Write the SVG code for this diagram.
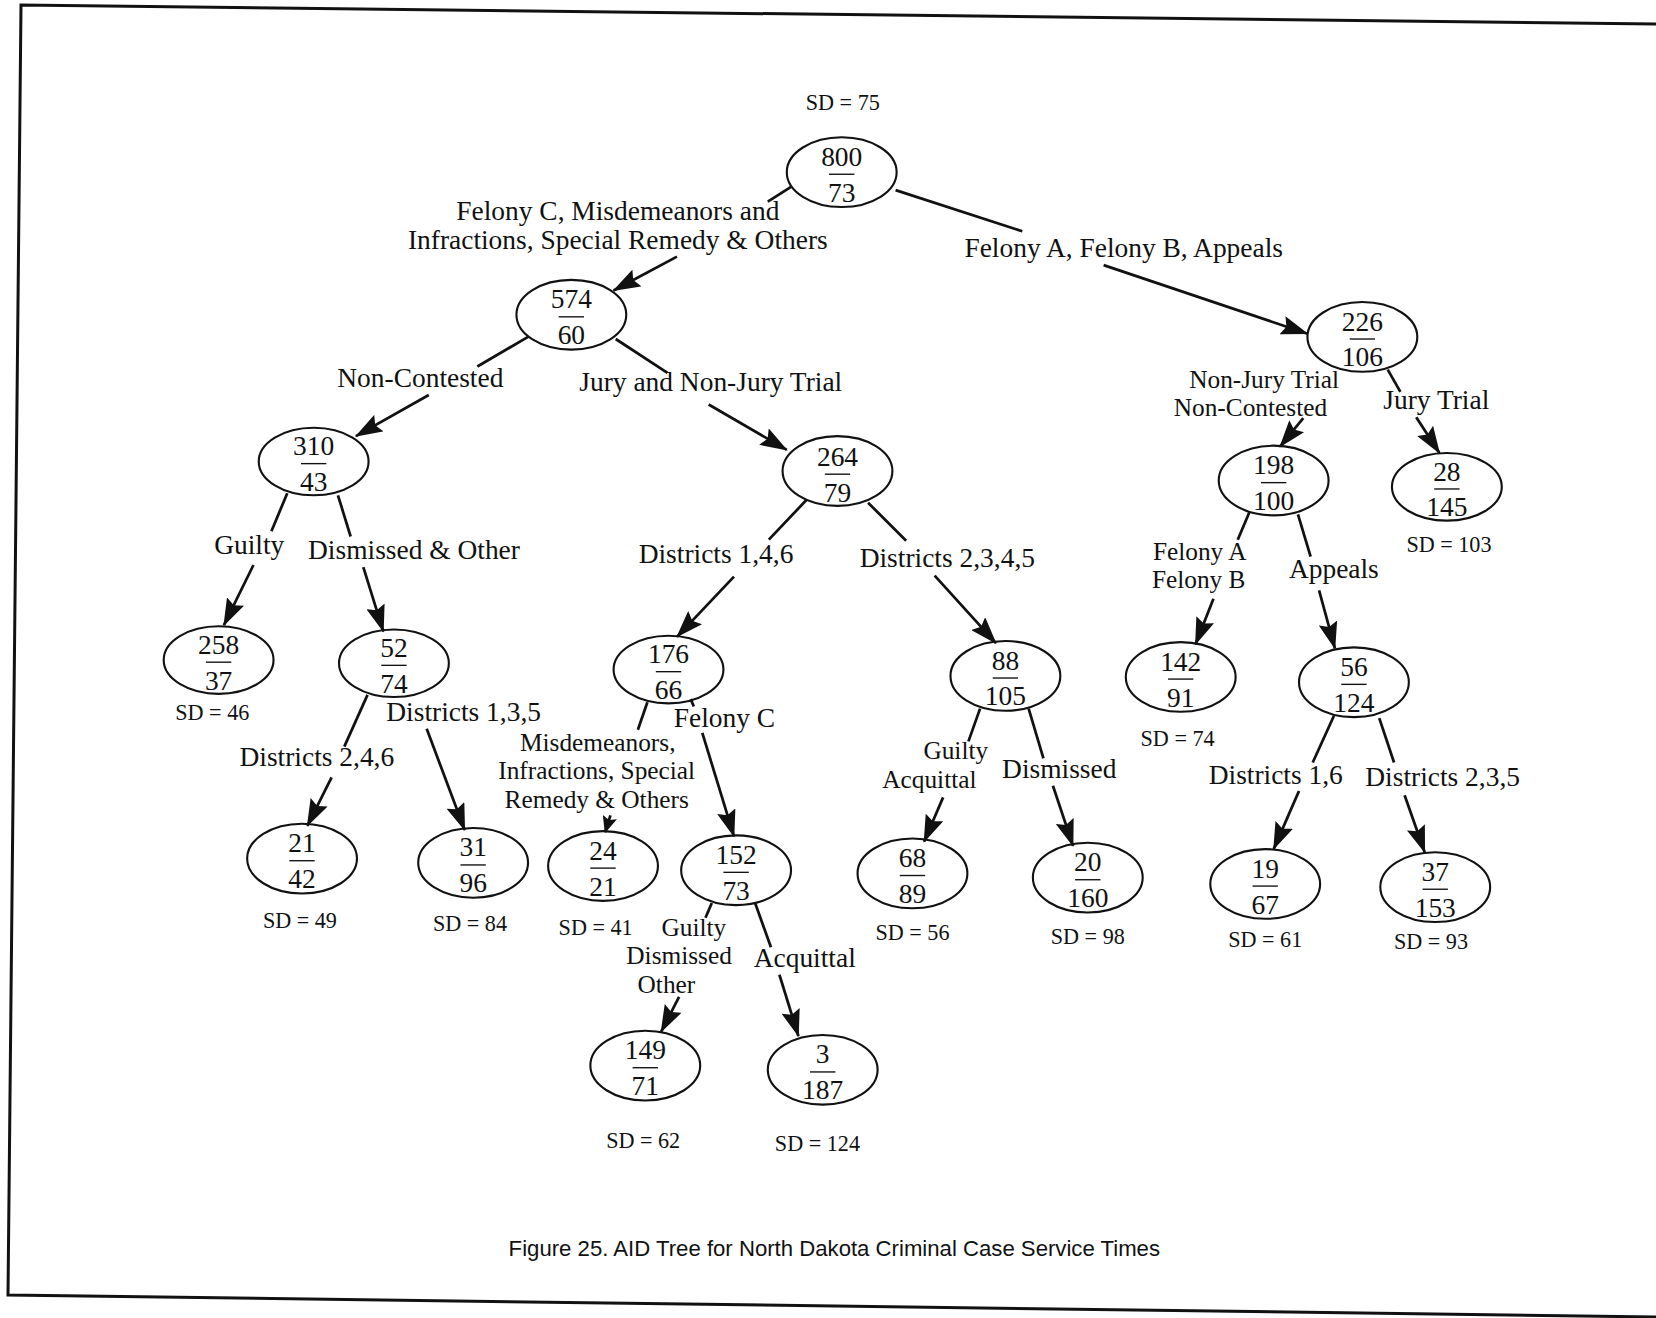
<svg xmlns="http://www.w3.org/2000/svg" width="1656" height="1318" viewBox="0 0 1656 1318">
<style>
.frame{fill:none;stroke:#111;stroke-width:3}
.node ellipse{fill:none;stroke:#111;stroke-width:2}
.node line{stroke:#111;stroke-width:1.3}
.num{font-family:"Liberation Serif","Times New Roman",serif;font-size:26px;fill:#111;text-anchor:middle}
.lbl{font-family:"Liberation Serif","Times New Roman",serif;font-size:26px;fill:#111;text-anchor:middle}
.stk{font-family:"Liberation Serif","Times New Roman",serif;font-size:24px;fill:#111;text-anchor:middle}
.sd{font-family:"Liberation Serif","Times New Roman",serif;font-size:21px;fill:#111;text-anchor:middle}
.cap{font-family:"Liberation Sans",Arial,sans-serif;font-size:21px;fill:#111;text-anchor:middle}
#edges line{stroke:#111;stroke-width:2.6;fill:none}
#edges line.arr{marker-end:url(#ah)}
#edges line.arrs{marker-end:url(#ahs)}
</style>
<defs>
<marker id="ah" viewBox="0 0 26 18" refX="25" refY="9" markerWidth="26" markerHeight="18" markerUnits="userSpaceOnUse" orient="auto">
<path d="M0,0 L26,9 L0,18 L4,9 z" fill="#111"/>
</marker>
<marker id="ahs" viewBox="0 0 16 14" refX="15" refY="7" markerWidth="16" markerHeight="14" markerUnits="userSpaceOnUse" orient="auto">
<path d="M0,0 L16,7 L0,14 L3,7 z" fill="#111"/>
</marker>
</defs>
<rect width="1656" height="1318" fill="#fff"/>
<path class="frame" d="M1656,24 L21,5 L8,1295 L1656,1317"/>
<g transform="scale(1.0561)">
<g id="edges">
<line x1="749" y1="177" x2="727" y2="191"/>
<line class="arr" x1="641" y1="243" x2="581" y2="275"/>
<line x1="848" y1="180" x2="968" y2="219"/>
<line class="arr" x1="1045" y1="251" x2="1238" y2="316"/>
<line x1="500" y1="319" x2="452" y2="347"/>
<line class="arr" x1="406" y1="374" x2="337" y2="413"/>
<line x1="583" y1="321" x2="632" y2="353"/>
<line class="arr" x1="671" y1="383" x2="745" y2="426"/>
<line class="arr" x1="1234" y1="396" x2="1212" y2="423"/>
<line x1="1314" y1="350" x2="1326" y2="371"/>
<line class="arr" x1="1341" y1="395" x2="1363" y2="429"/>
<line x1="272" y1="467" x2="257" y2="503"/>
<line class="arr" x1="240" y1="535" x2="212" y2="592"/>
<line x1="320" y1="469" x2="332" y2="508"/>
<line class="arr" x1="344" y1="537" x2="363" y2="598"/>
<line x1="764" y1="473" x2="728" y2="511"/>
<line class="arr" x1="695" y1="546" x2="641" y2="603"/>
<line x1="822" y1="476" x2="858" y2="512"/>
<line class="arr" x1="885" y1="545" x2="943" y2="609"/>
<line x1="348" y1="658" x2="326" y2="707"/>
<line class="arr" x1="314" y1="736" x2="291" y2="782"/>
<line class="arr" x1="404" y1="690" x2="440" y2="786"/>
<line x1="613" y1="665" x2="604" y2="691"/>
<line class="arrs" x1="578" y1="772" x2="573" y2="788"/>
<line x1="654" y1="662" x2="657" y2="669"/>
<line class="arr" x1="665" y1="694" x2="695" y2="792"/>
<line x1="928" y1="671" x2="917" y2="702"/>
<line class="arr" x1="893" y1="755" x2="875" y2="797"/>
<line x1="974" y1="671" x2="988" y2="718"/>
<line class="arr" x1="997" y1="744" x2="1016" y2="801"/>
<line x1="1183" y1="485" x2="1172" y2="511"/>
<line class="arr" x1="1149" y1="567" x2="1132" y2="610"/>
<line x1="1229" y1="487" x2="1241" y2="527"/>
<line class="arr" x1="1249" y1="559" x2="1264" y2="614"/>
<line x1="1263" y1="678" x2="1243" y2="722"/>
<line class="arr" x1="1230" y1="749" x2="1206" y2="804"/>
<line x1="1306" y1="680" x2="1320" y2="722"/>
<line class="arr" x1="1330" y1="753" x2="1349" y2="807"/>
<line x1="674" y1="855" x2="668" y2="869"/>
<line class="arr" x1="643" y1="944" x2="626" y2="977"/>
<line x1="715" y1="855" x2="730" y2="897"/>
<line class="arr" x1="738" y1="923" x2="756" y2="981"/>
</g>
<g id="labels">
<text class="lbl" x="585" y="208">Felony C, Misdemeanors and</text>
<text class="lbl" x="585" y="236">Infractions, Special Remedy &amp; Others</text>
<text class="lbl" x="1064" y="243">Felony A, Felony B, Appeals</text>
<text class="lbl" x="398" y="366">Non-Contested</text>
<text class="lbl" x="673" y="370">Jury and Non-Jury Trial</text>
<text class="stk" x="1197" y="367">Non-Jury Trial</text>
<text class="stk" x="1184" y="394">Non-Contested</text>
<text class="lbl" x="1360" y="387">Jury Trial</text>
<text class="lbl" x="236" y="525">Guilty</text>
<text class="lbl" x="392" y="529">Dismissed &amp; Other</text>
<text class="lbl" x="678" y="533">Districts 1,4,6</text>
<text class="lbl" x="897" y="537">Districts 2,3,4,5</text>
<text class="stk" x="1136" y="530">Felony A</text>
<text class="stk" x="1135" y="557">Felony B</text>
<text class="lbl" x="1263" y="547">Appeals</text>
<text class="lbl" x="439" y="683">Districts 1,3,5</text>
<text class="lbl" x="300" y="725">Districts 2,4,6</text>
<text class="stk" x="566" y="711">Misdemeanors,</text>
<text class="stk" x="565" y="738">Infractions, Special</text>
<text class="stk" x="565" y="765">Remedy &amp; Others</text>
<text class="lbl" x="686" y="688">Felony C</text>
<text class="stk" x="905" y="719">Guilty</text>
<text class="stk" x="880" y="746">Acquittal</text>
<text class="lbl" x="1003" y="737">Dismissed</text>
<text class="lbl" x="1208" y="742">Districts 1,6</text>
<text class="lbl" x="1366" y="744">Districts 2,3,5</text>
<text class="stk" x="657" y="886">Guilty</text>
<text class="stk" x="643" y="913">Dismissed</text>
<text class="stk" x="631" y="940">Other</text>
<text class="lbl" x="762" y="916">Acquittal</text>
</g>
<g id="n800" class="node"><ellipse cx="797" cy="163" rx="52" ry="33"/><text class="num" x="797" y="157">800</text><line x1="785" y1="165" x2="809" y2="165"/><text class="num" x="797" y="191">73</text></g>
<g id="n574" class="node"><ellipse cx="541" cy="298" rx="52" ry="33"/><text class="num" x="541" y="292">574</text><line x1="529" y1="300" x2="553" y2="300"/><text class="num" x="541" y="326">60</text></g>
<g id="n226" class="node"><ellipse cx="1290" cy="319" rx="52" ry="33"/><text class="num" x="1290" y="313">226</text><line x1="1278" y1="321" x2="1302" y2="321"/><text class="num" x="1290" y="347">106</text></g>
<g id="n310" class="node"><ellipse cx="297" cy="437" rx="52" ry="32"/><text class="num" x="297" y="431">310</text><line x1="285" y1="439" x2="309" y2="439"/><text class="num" x="297" y="465">43</text></g>
<g id="n264" class="node"><ellipse cx="793" cy="446" rx="52" ry="33"/><text class="num" x="793" y="441">264</text><line x1="781" y1="449" x2="805" y2="449"/><text class="num" x="793" y="475">79</text></g>
<g id="n198" class="node"><ellipse cx="1206" cy="455" rx="52" ry="33"/><text class="num" x="1206" y="449">198</text><line x1="1194" y1="457" x2="1218" y2="457"/><text class="num" x="1206" y="483">100</text></g>
<g id="n28" class="node"><ellipse cx="1370" cy="461" rx="52" ry="32"/><text class="num" x="1370" y="455">28</text><line x1="1358" y1="463" x2="1382" y2="463"/><text class="num" x="1370" y="489">145</text></g>
<g id="n258" class="node"><ellipse cx="207" cy="625" rx="52" ry="32"/><text class="num" x="207" y="619">258</text><line x1="195" y1="627" x2="219" y2="627"/><text class="num" x="207" y="653">37</text></g>
<g id="n52" class="node"><ellipse cx="373" cy="628" rx="52" ry="32"/><text class="num" x="373" y="622">52</text><line x1="361" y1="630" x2="385" y2="630"/><text class="num" x="373" y="656">74</text></g>
<g id="n176" class="node"><ellipse cx="633" cy="634" rx="52" ry="32"/><text class="num" x="633" y="628">176</text><line x1="621" y1="636" x2="645" y2="636"/><text class="num" x="633" y="662">66</text></g>
<g id="n88" class="node"><ellipse cx="952" cy="640" rx="52" ry="33"/><text class="num" x="952" y="634">88</text><line x1="940" y1="642" x2="964" y2="642"/><text class="num" x="952" y="668">105</text></g>
<g id="n142" class="node"><ellipse cx="1118" cy="641" rx="52" ry="33"/><text class="num" x="1118" y="635">142</text><line x1="1106" y1="643" x2="1130" y2="643"/><text class="num" x="1118" y="669">91</text></g>
<g id="n56" class="node"><ellipse cx="1282" cy="646" rx="52" ry="33"/><text class="num" x="1282" y="640">56</text><line x1="1270" y1="648" x2="1294" y2="648"/><text class="num" x="1282" y="674">124</text></g>
<g id="n21a" class="node"><ellipse cx="286" cy="813" rx="52" ry="33"/><text class="num" x="286" y="807">21</text><line x1="274" y1="815" x2="298" y2="815"/><text class="num" x="286" y="841">42</text></g>
<g id="n31" class="node"><ellipse cx="448" cy="817" rx="52" ry="33"/><text class="num" x="448" y="811">31</text><line x1="436" y1="819" x2="460" y2="819"/><text class="num" x="448" y="845">96</text></g>
<g id="n24" class="node"><ellipse cx="571" cy="820" rx="52" ry="33"/><text class="num" x="571" y="814">24</text><line x1="559" y1="822" x2="583" y2="822"/><text class="num" x="571" y="848">21</text></g>
<g id="n152" class="node"><ellipse cx="697" cy="824" rx="52" ry="33"/><text class="num" x="697" y="818">152</text><line x1="685" y1="826" x2="709" y2="826"/><text class="num" x="697" y="852">73</text></g>
<g id="n68" class="node"><ellipse cx="864" cy="827" rx="52" ry="33"/><text class="num" x="864" y="821">68</text><line x1="852" y1="829" x2="876" y2="829"/><text class="num" x="864" y="855">89</text></g>
<g id="n20" class="node"><ellipse cx="1030" cy="831" rx="52" ry="33"/><text class="num" x="1030" y="825">20</text><line x1="1018" y1="833" x2="1042" y2="833"/><text class="num" x="1030" y="859">160</text></g>
<g id="n19" class="node"><ellipse cx="1198" cy="837" rx="52" ry="33"/><text class="num" x="1198" y="831">19</text><line x1="1186" y1="839" x2="1210" y2="839"/><text class="num" x="1198" y="865">67</text></g>
<g id="n37" class="node"><ellipse cx="1359" cy="840" rx="52" ry="33"/><text class="num" x="1359" y="834">37</text><line x1="1347" y1="842" x2="1371" y2="842"/><text class="num" x="1359" y="868">153</text></g>
<g id="n149" class="node"><ellipse cx="611" cy="1009" rx="52" ry="33"/><text class="num" x="611" y="1003">149</text><line x1="599" y1="1011" x2="623" y2="1011"/><text class="num" x="611" y="1037">71</text></g>
<g id="n3" class="node"><ellipse cx="779" cy="1013" rx="52" ry="33"/><text class="num" x="779" y="1007">3</text><line x1="767" y1="1015" x2="791" y2="1015"/><text class="num" x="779" y="1041">187</text></g>
<g id="sds">
<text class="sd" x="798" y="104">SD = 75</text>
<text class="sd" x="201" y="682">SD = 46</text>
<text class="sd" x="284" y="879">SD = 49</text>
<text class="sd" x="445" y="882">SD = 84</text>
<text class="sd" x="564" y="885">SD = 41</text>
<text class="sd" x="864" y="890">SD = 56</text>
<text class="sd" x="1030" y="894">SD = 98</text>
<text class="sd" x="1115" y="706">SD = 74</text>
<text class="sd" x="1372" y="523">SD = 103</text>
<text class="sd" x="1198" y="897">SD = 61</text>
<text class="sd" x="1355" y="899">SD = 93</text>
<text class="sd" x="609" y="1087">SD = 62</text>
<text class="sd" x="774" y="1090">SD = 124</text>
</g>
<text class="cap" x="790" y="1189">Figure 25. AID Tree for North Dakota Criminal Case Service Times</text>
</g>
</svg>
